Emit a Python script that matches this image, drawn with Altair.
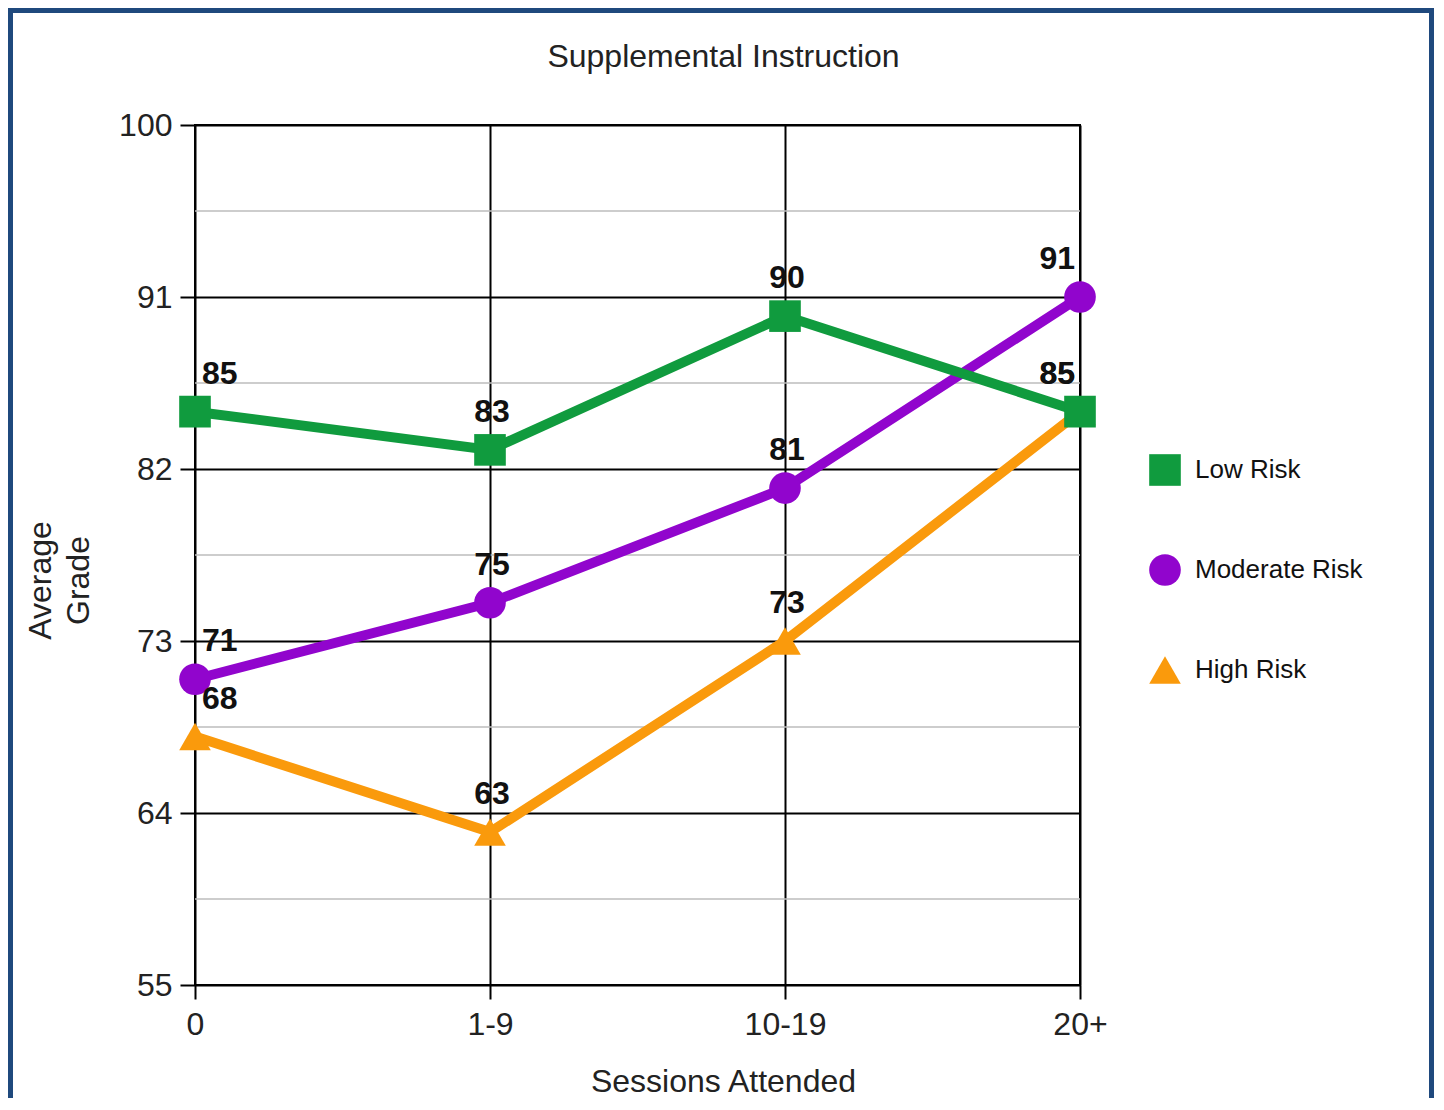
import altair as alt
import pandas as pd

sessions = ["0", "1-9", "10-19", "20+"]
series_names = ["Low Risk", "Moderate Risk", "High Risk"]
low_risk = [85, 83, 90, 85]
moderate_risk = [71, 75, 81, 91]
high_risk = [68, 63, 73, 85]
major_ticks = [55, 64, 73, 82, 91, 100]
minor_ticks = [59.5, 68.5, 77.5, 86.5, 95.5]

colors = ["#109b3e", "#9105cd", "#fa9a0c"]
shapes = ["square", "circle", "triangle-up"]
FONT = "Liberation Sans"

rows = []
series_values = [low_risk, moderate_risk, high_risk]
# build from last series to first so the first series is drawn on top
for name, vals in reversed(list(zip(series_names, series_values))):
    for s, v in zip(sessions, vals):
        rows.append({"session": s, "series": name, "grade": v})
df = pd.DataFrame(rows)

x_enc = alt.X(
    "session:N",
    sort=sessions,
    scale=alt.Scale(type="point", domain=sessions, padding=0),
    axis=alt.Axis(
        title="Sessions Attended",
        titleFontSize=32, titleFont=FONT, titleFontWeight="normal", titleColor="#222",
        titleX=528, titleY=106, titleBaseline="alphabetic", titleAlign="center",
        labelFontSize=32, labelFont=FONT, labelColor="#222", labelAngle=0, labelPadding=10,
        grid=True, gridColor="#000", gridWidth=2,
        domain=False, ticks=True, tickColor="#000", tickWidth=2, tickSize=14,
    ),
)
y_scale = alt.Scale(domain=[55, 100], nice=False, zero=False)
y_enc = alt.Y(
    "grade:Q",
    scale=y_scale,
    axis=alt.Axis(
        title=["Average", "Grade"],
        titleFontSize=32, titleFont=FONT, titleFontWeight="normal", titleColor="#222",
        titleX=-155, titleY=455, titleBaseline="middle", titleAlign="center",
        titleLineHeight=38,
        values=major_ticks,
        labelFontSize=32, labelFont=FONT, labelColor="#222", labelPadding=8,
        grid=True, gridColor="#000", gridWidth=2,
        domain=False, ticks=True, tickColor="#000", tickWidth=2, tickSize=15,
    ),
)
color_scale = alt.Scale(domain=series_names, range=colors)
shape_scale = alt.Scale(domain=series_names, range=shapes)

legend_cfg = dict(
    title=None, orient="none", legendX=954, legendY=329,
    symbolSize=1000, symbolOpacity=1, symbolStrokeWidth=0,
    labelFontSize=26, labelFont=FONT, labelColor="#111", labelLimit=400,
    labelOffset=14, rowPadding=68, padding=0,
)

base = alt.Chart(df)

minor = alt.Chart(pd.DataFrame({"v": minor_ticks})).mark_rule(
    color="#bdbdbd", strokeWidth=1.5
).encode(y=alt.Y("v:Q", scale=y_scale))

lines = base.mark_line(strokeWidth=10).encode(
    x=x_enc, y=y_enc,
    stroke=alt.Stroke("series:N", scale=color_scale, legend=alt.Legend(**legend_cfg)),
    detail="series:N",
)

points = base.mark_point(filled=True, size=1000, opacity=1).encode(
    x=x_enc, y=y_enc,
    color=alt.Color("series:N", scale=color_scale, legend=alt.Legend(**legend_cfg)),
    shape=alt.Shape("series:N", scale=shape_scale, legend=alt.Legend(**legend_cfg)),
)

def labels(filter_vals, align, dx):
    return base.transform_filter(
        alt.FieldOneOfPredicate(field="session", oneOf=filter_vals)
    ).mark_text(
        align=align, baseline="alphabetic", dx=dx, dy=-28,
        font=FONT, fontSize=32, fontWeight="bold", color="#111",
    ).encode(x=x_enc, y=y_enc, text="grade:Q")

lab_left = labels([sessions[0]], "left", 7)
lab_mid = labels(sessions[1:-1], "center", 2)
lab_right = labels([sessions[-1]], "right", -5)

frame = alt.Chart(pd.DataFrame({"a": [0]})).mark_rect(
    fillOpacity=0, stroke="#1f497d", strokeWidth=10
).encode(
    x=alt.value(-187), x2=alt.value(1239), y=alt.value(-117), y2=alt.value(1200)
)

chart = alt.layer(minor, lines, points, lab_left, lab_mid, lab_right, frame).properties(
    width=885, height=860,
    autosize=alt.AutoSizeParams(type="none"),
    padding={"left": 187, "top": 117, "right": 354, "bottom": 113},
    title=alt.TitleParams(
        "Supplemental Instruction", font=FONT, fontSize=32, fontWeight="normal",
        color="#222", anchor="middle", dx=86, offset=0, dy=96, baseline="alphabetic",
    ),
    background="white",
).configure_view(stroke="#000", strokeWidth=2)

chart.save("out.html", embed_options={"renderer": "svg", "actions": False})
